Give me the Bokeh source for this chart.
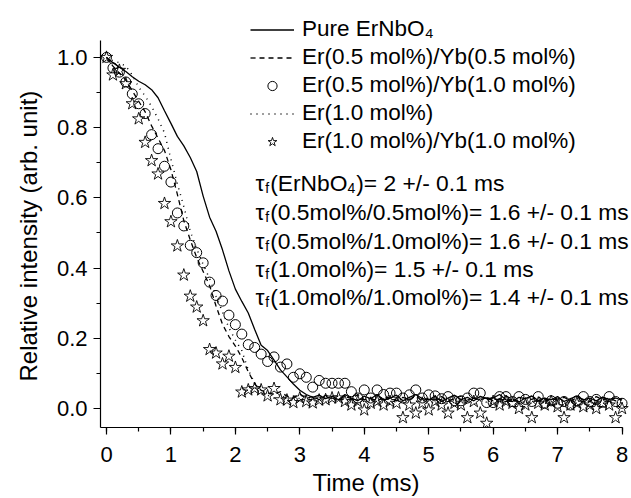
from bokeh.plotting import figure
from bokeh.models import (Range1d, Legend, LegendItem, Label, Title, SingleIntervalTicker,
                          NumeralTickFormatter)
from bokeh.embed import file_html
from bokeh.resources import INLINE

# ---------------- data ----------------
time_ms = [0.0, 0.1, 0.2, 0.3, 0.4, 0.5, 0.6, 0.7, 0.8, 0.9,
           1.0, 1.1, 1.2, 1.3, 1.4, 1.5, 1.6, 1.7, 1.8, 1.9,
           2.0, 2.1, 2.2, 2.3, 2.4, 2.5, 2.6, 2.7, 2.8, 2.9,
           3.0, 3.1, 3.2, 3.3, 3.4, 3.5, 3.6, 3.7, 3.8, 3.9,
           4.0, 4.1, 4.2, 4.3, 4.4, 4.5, 4.6, 4.7, 4.8, 4.9,
           5.0, 5.1, 5.2, 5.3, 5.4, 5.5, 5.6, 5.7, 5.8, 5.9,
           6.0, 6.1, 6.2, 6.3, 6.4, 6.5, 6.6, 6.7, 6.8, 6.9,
           7.0, 7.1, 7.2, 7.3, 7.4, 7.5, 7.6, 7.7, 7.8, 7.9, 8.0]

pure_ernbo4 = [1.000, 0.985, 0.972, 0.960, 0.945, 0.932, 0.922, 0.908, 0.885, 0.848,
               0.812, 0.775, 0.748, 0.715, 0.675, 0.605, 0.545, 0.505, 0.452, 0.392,
               0.340, 0.305, 0.272, 0.225, 0.180, 0.165, 0.138, 0.110, 0.090, 0.070,
               0.052, 0.040, 0.032, 0.038, 0.028, 0.035, 0.025, 0.040, 0.030, 0.022,
               0.035, 0.028, 0.040, 0.025, 0.030, 0.038, 0.022, 0.032, 0.040, 0.028,
               0.025, 0.035, 0.020, 0.030, 0.038, 0.025, 0.032, 0.022, 0.035, 0.028,
               0.030, 0.040, 0.025, 0.020, 0.032, 0.028, 0.036, 0.022, 0.030, 0.025,
               0.034, 0.020, 0.028, 0.035, 0.025, 0.030, 0.022, 0.032, 0.026, 0.030, 0.024]

er05_yb05 = [1.000, 0.975, 0.955, 0.935, 0.905, 0.875, 0.845, 0.805, 0.770, 0.735,
             0.680, 0.610, 0.535, 0.480, 0.430, 0.390, 0.350, 0.292, 0.240, 0.205,
             0.178, 0.145, 0.105, 0.070, 0.052, 0.045, 0.040, 0.048, 0.035, 0.030,
             0.042, 0.028, 0.035, 0.025, 0.038, 0.030, 0.022, 0.035, 0.028, 0.040,
             0.025, 0.030, 0.020, 0.035, 0.028, 0.022, 0.032, 0.025, 0.038, 0.020,
             0.030, 0.026, 0.034, 0.022, 0.028, 0.035, 0.020, 0.030, 0.025, 0.032,
             0.022, 0.028, 0.036, 0.025, 0.020, 0.030, 0.026, 0.034, 0.020, 0.028,
             0.024, 0.032, 0.022, 0.030, 0.026, 0.020, 0.034, 0.025, 0.030, 0.022, 0.028]

er05_yb10 = [1.000, 0.970, 0.958, 0.930, 0.896, 0.868, 0.840, 0.780, 0.740, 0.690,
             0.645, 0.557, 0.520, 0.465, 0.444, 0.415, 0.360, 0.322, 0.306, 0.266,
             0.239, 0.212, 0.182, 0.174, 0.155, 0.134, 0.147, 0.118, 0.127, 0.089,
             0.099, 0.089, 0.061, 0.080, 0.072, 0.072, 0.072, 0.072, 0.048, 0.030,
             0.053, 0.030, 0.053, 0.040, 0.044, 0.044, 0.030, 0.039, 0.053, 0.030,
             0.039, 0.036, 0.028, 0.034, 0.022, 0.022, 0.030, 0.044, 0.044, 0.017,
             0.017, 0.034, 0.034, 0.020, 0.034, 0.026, 0.020, 0.034, 0.015, 0.022,
             0.015, 0.020, 0.010, 0.022, 0.034, 0.020, 0.026, 0.018, 0.034, 0.020, 0.015]

er10 = [1.000, 0.990, 0.985, 0.975, 0.950, 0.915, 0.890, 0.860, 0.825, 0.785,
        0.710, 0.640, 0.575, 0.505, 0.455, 0.410, 0.370, 0.320, 0.275, 0.230,
        0.195, 0.165, 0.110, 0.072, 0.050, 0.038, 0.030, 0.042, 0.025, 0.035,
        0.028, 0.020, 0.032, 0.025, 0.018, 0.030, 0.022, 0.028, 0.015, 0.025,
        0.020, 0.030, 0.018, 0.025, 0.012, 0.022, 0.028, 0.015, 0.020, 0.026,
        0.012, 0.022, 0.018, 0.028, 0.015, 0.020, 0.025, 0.012, 0.022, 0.018,
        0.025, 0.015, 0.020, 0.028, 0.012, 0.022, 0.018, 0.025, 0.015, 0.020,
        0.012, 0.022, 0.018, 0.025, 0.015, 0.020, 0.010, 0.022, 0.018, 0.015, 0.020]

er10_yb10 = [1.000, 0.950, 0.963, 0.925, 0.868, 0.825, 0.758, 0.706, 0.668, 0.584,
             0.532, 0.463, 0.380, 0.320, 0.289, 0.250, 0.168, 0.158, 0.127, 0.149,
             0.117, 0.047, 0.053, 0.057, 0.053, 0.036, 0.057, 0.025, 0.024, 0.017,
             0.030, 0.020, 0.016, 0.024, 0.025, 0.030, 0.030, 0.020, 0.010, 0.020,
             -0.004, 0.015, 0.020, 0.010, 0.020, 0.015, -0.026, 0.010, -0.013, 0.015,
             -0.004, 0.020, 0.010, -0.013, 0.015, 0.010, -0.026, 0.020, -0.013, -0.042,
             0.020, 0.010, 0.020, 0.015, 0.000, 0.010, -0.026, 0.015, 0.010, 0.020,
             0.005, -0.026, 0.010, 0.015, 0.005, 0.010, 0.000, 0.015, 0.010, -0.026, 0.000]

legend_labels = ["Pure ErNbO\u2084", "Er(0.5 mol%)/Yb(0.5 mol%)", "Er(0.5 mol%)/Yb(1.0 mol%)",
                 "Er(1.0 mol%)", "Er(1.0 mol%)/Yb(1.0 mol%)"]

# lifetime annotations: list of (text, is_subscript) pieces
tau_rows = [
    [("\u03c4", False), ("f", True), ("(ErNbO", False), ("4", True), (")= 2 +/- 0.1 ms", False)],
    [("\u03c4", False), ("f", True), ("(0.5mol%/0.5mol%)= 1.6 +/- 0.1 ms", False)],
    [("\u03c4", False), ("f", True), ("(0.5mol%/1.0mol%)= 1.6 +/- 0.1 ms", False)],
    [("\u03c4", False), ("f", True), ("(1.0mol%)= 1.5 +/- 0.1 ms", False)],
    [("\u03c4", False), ("f", True), ("(1.0mol%/1.0mol%)= 1.4 +/- 0.1 ms", False)],
]

FONT = "Liberation Sans"

# frame spans the full top/right of the canvas so the legend and notes are not clipped;
# the axes themselves are limited with "bounds"
p = figure(width=631, height=498, output_backend="svg", toolbar_location=None,
           x_range=Range1d(-0.093, 8.147), y_range=Range1d(-0.054, 1.162),
           min_border_left=100, min_border_right=0, min_border_top=0, min_border_bottom=71)
p.xgrid.visible = False
p.ygrid.visible = False
p.outline_line_color = None
p.background_fill_color = "white"
p.border_fill_color = "white"

p.xaxis.ticker = SingleIntervalTicker(interval=1, num_minor_ticks=2)
p.yaxis.ticker = SingleIntervalTicker(interval=0.2, num_minor_ticks=2)
p.xaxis.formatter = NumeralTickFormatter(format="0")
p.yaxis.formatter = NumeralTickFormatter(format="0.0")
p.xaxis.bounds = (-0.093, 8.0)
p.yaxis.bounds = (-0.054, 1.048)
p.xaxis.axis_label = "Time (ms)"
for ax in (p.xaxis[0], p.yaxis[0]):
    ax.axis_line_width = 1.2
    ax.axis_line_color = "black"
    ax.major_tick_line_color = "black"
    ax.minor_tick_line_color = "black"
    ax.major_tick_line_width = 1.2
    ax.minor_tick_line_width = 1.2
    ax.major_tick_in = 0
    ax.major_tick_out = 7
    ax.minor_tick_in = 0
    ax.minor_tick_out = 4
    ax.major_label_text_font = FONT
    ax.major_label_text_font_size = "22px"
    ax.major_label_text_color = "black"
    ax.axis_label_text_font = FONT
    ax.axis_label_text_font_size = "24px"
    ax.axis_label_text_font_style = "normal"
    ax.axis_label_text_color = "black"
p.xaxis.major_label_standoff = 12
p.yaxis.major_label_standoff = 6
p.xaxis.axis_label_standoff = 4

ytitle = Title(text="Relative intensity (arb. unit)", align="left", offset=46,
               text_font=FONT, text_font_size="24px", text_font_style="normal",
               text_color="black", standoff=23, vertical_align="bottom")
p.add_layout(ytitle, "left")

r_pure = p.line(time_ms, pure_ernbo4, line_color="black", line_width=1.3)
r_d = p.line(time_ms, er05_yb05, line_color="black", line_width=1.3, line_dash="5 4")
r_dot = p.line(time_ms, er10, line_color="black", line_width=1.5, line_dash="1 5")
r_c = p.scatter(time_ms, er05_yb10, marker="circle", size=10, fill_color=None,
                line_color="black", line_width=1.0)
r_s = p.scatter(time_ms, er10_yb10, marker="star", size=13, fill_color=None,
                line_color="black", line_width=0.9)

legend = Legend(items=[LegendItem(label=legend_labels[0], renderers=[r_pure]),
                       LegendItem(label=legend_labels[1], renderers=[r_d]),
                       LegendItem(label=legend_labels[2], renderers=[r_c]),
                       LegendItem(label=legend_labels[3], renderers=[r_dot]),
                       LegendItem(label=legend_labels[4], renderers=[r_s])],
                location=(150, 273), padding=0, margin=0, spacing=2,
                glyph_width=44, glyph_height=23, label_height=23, label_standoff=8,
                label_text_font=FONT, label_text_font_size="22.5px",
                label_text_color="black", border_line_color=None,
                background_fill_alpha=0)
p.add_layout(legend)

# Arial / Liberation Sans advance widths (per 1000 em)
W = {'(': 333, ')': 333, 'E': 667, 'r': 333, 'N': 722, 'b': 556, 'O': 778, '0': 556,
     '1': 556, '2': 556, '4': 556, '5': 556, '6': 556, '.': 278, 'm': 833, 'o': 556,
     'l': 222, '%': 889, '/': 278, '=': 584, ' ': 278, '+': 584, '-': 333, 's': 500,
     'f': 278, '\u03c4': 430}

def text_width(s, size):
    return sum(W.get(ch, 556) for ch in s) * size / 1000.0

MAIN = 22.8
SUB = 14.0
x0 = 155.0
baselines = [245, 216, 187, 159, 131]
for row, yb in zip(tau_rows, baselines):
    x = x0
    for txt, sub in row:
        size = SUB if sub else MAIN
        p.add_layout(Label(x=x, y=yb - (5 if sub else 0), x_units="screen", y_units="screen",
                           text=txt, text_font=FONT, text_font_size=f"{size}px",
                           text_color="black", text_baseline="alphabetic", text_align="left"))
        x += text_width(txt, size) + (1 if sub else 0)

open("out.html", "w").write(file_html(p, INLINE))
